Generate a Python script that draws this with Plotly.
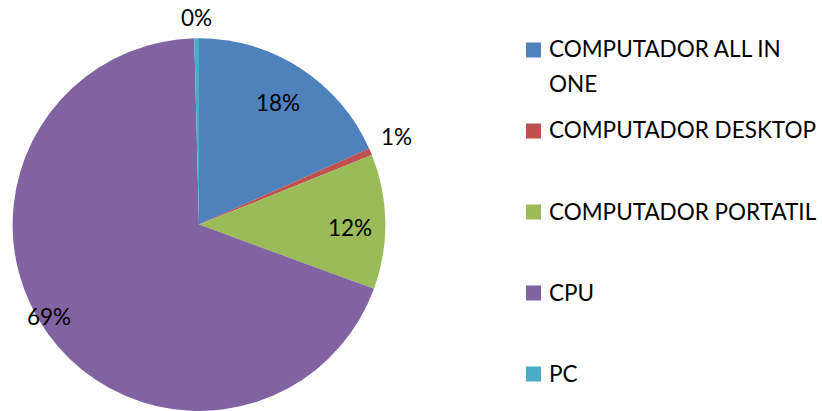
import math
import plotly.graph_objects as go

categories = ["COMPUTADOR ALL IN ONE", "COMPUTADOR DESKTOP", "COMPUTADOR PORTATIL", "CPU", "PC"]
legend_labels = ["COMPUTADOR ALL IN<br>ONE", "COMPUTADOR DESKTOP", "COMPUTADOR PORTATIL", "CPU", "PC"]
values = [18.3, 0.6, 11.7, 69.0, 0.4]
colors = ["#4F81BD", "#C0504D", "#9BBB59", "#8064A2", "#4BACC6"]

W, H = 822, 411
FONT = "Lato, Arial, sans-serif"
FS = 22.5

dom_x = [12 / W, 386 / W]
dom_y = [0.0, 0.907]

fig = go.Figure(go.Pie(
    labels=categories,
    values=values,
    sort=False,
    direction="clockwise",
    rotation=0,
    marker=dict(colors=colors, line=dict(width=0)),
    textinfo="none",
    hoverinfo="label+percent",
    showlegend=False,
    domain=dict(x=dom_x, y=dom_y),
))

# pie geometry in pixels (derived from the domain)
r_px = min((dom_x[1] - dom_x[0]) * W, (dom_y[1] - dom_y[0]) * H) / 2
cx_px = (dom_x[0] + dom_x[1]) / 2 * W
cy_px = (dom_y[0] + dom_y[1]) / 2 * H  # from bottom

# label placement style: radial factor and pixel nudges
label_radius = [0.78, 1.15, 0.81, 0.94, 1.11]
label_nudge = [(0, 0), (0, 4), (0, -5), (-8, 10), (0, 0)]

total = sum(values)
cum = 0.0
annotations = []
for v, f, (nx, ny) in zip(values, label_radius, label_nudge):
    mid = (cum + v / 2) / total * 2 * math.pi
    cum += v
    x = (cx_px + f * r_px * math.sin(mid)) / W
    y = (cy_px + f * r_px * math.cos(mid)) / H
    annotations.append(dict(
        x=x, y=y, xref="paper", yref="paper", showarrow=False,
        xshift=nx, yshift=ny,
        text=f"{v / total * 100:.0f}%", font=dict(family=FONT, size=FS, color="#000000"),
        xanchor="center", yanchor="middle",
    ))

# legend (manual, to reproduce Excel spacing)
shapes = []
leg_top = 50
leg_gap = 81
line_gap = 35
for i, (lab, col) in enumerate(zip(legend_labels, colors)):
    yc = leg_top + i * leg_gap
    shapes.append(dict(type="rect", xref="paper", yref="paper",
                       x0=526 / W, x1=541 / W, y0=1 - (yc + 7.5) / H, y1=1 - (yc - 7.5) / H,
                       fillcolor=col, line=dict(width=0)))
    for j, line in enumerate(lab.split("<br>")):
        annotations.append(dict(
            x=547 / W, y=1 - (yc + j * line_gap) / H, xref="paper", yref="paper", showarrow=False,
            yshift=1,
            text=line, align="left", xanchor="left", yanchor="middle",
            font=dict(family=FONT, size=FS, color="#000000"),
        ))

fig.update_layout(
    width=W, height=H,
    margin=dict(l=0, r=0, t=0, b=0),
    paper_bgcolor="white", plot_bgcolor="white",
    annotations=annotations, shapes=shapes,
    showlegend=False,
)

fig.write_html("out.html", config={"displayModeBar": False},
               post_script="document.body.style.margin='0';document.body.style.overflow='hidden';")
